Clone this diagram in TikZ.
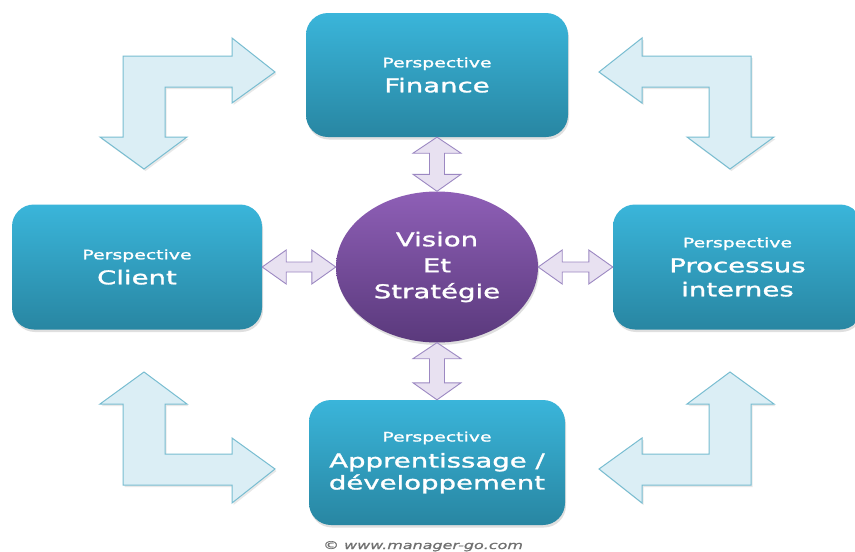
\documentclass[tikz,border=0pt]{standalone}
\usepackage{fontspec}
\newfontfamily\wfont[FakeStretch=1.45,FakeBold=1.5]{DejaVu Sans}
\newfontfamily\ffont[FakeStretch=1.45,FakeBold=0.8]{DejaVu Sans}
\usetikzlibrary{shadows,calc,shapes.geometric}
\definecolor{boxtop}{HTML}{3AB5DA}
\definecolor{boxbot}{HTML}{2886A2}
\definecolor{vistop}{HTML}{8E5FB6}
\definecolor{visbot}{HTML}{5A397C}
\definecolor{bentfill}{HTML}{DBEEF5}
\definecolor{bentline}{HTML}{78BDD1}
\definecolor{dblfill}{HTML}{E8E1F1}
\definecolor{dblline}{HTML}{9C88C2}
\definecolor{footgray}{HTML}{707070}
\newcommand{\vdbl}[2]{\draw[dbl] (#1) -- ++(24,16) -- ++(-16.5,0) -- ($(#2)+(7.5,-17)$) -- ++(16.5,0) -- (#2) -- ++(-24,-17) -- ++(16.5,0) -- ($(#1)+(-7.5,16)$) -- ++(-16.5,0) -- cycle;}
\newcommand{\hdbl}[2]{\draw[dbl] (#1) -- ++(24,-17) -- ++(0,12) -- ($(#2)+(-24,-5)$) -- ++(0,-12) -- (#2) -- ++(-24,17) -- ++(0,-12) -- ($(#1)+(24,5)$) -- ++(0,12) -- cycle;}
\begin{document}
\begin{tikzpicture}[x=1pt,y=-1pt,
  persp/.style={rounded corners=22pt, top color=boxtop, bottom color=boxbot, draw=none,
    text=white, align=center, inner sep=0pt, font=\wfont\fontsize{19}{25}\selectfont,
    drop shadow={opacity=0.25, shadow xshift=1pt, shadow yshift=-2.5pt}},
  vis/.style={ellipse, top color=vistop, bottom color=visbot, draw=none, text=white,
    align=center, inner sep=0pt, font=\wfont\fontsize{19}{26}\selectfont,
    drop shadow={opacity=0.25, shadow xshift=1pt, shadow yshift=-2.5pt}},
  bent/.style={fill=bentfill, draw=bentline, line width=1pt, line join=miter,
    drop shadow={opacity=0.18, shadow xshift=1.5pt, shadow yshift=-2pt}},
  dbl/.style={fill=dblfill, draw=dblline, line width=0.9pt, line join=miter}
]
\useasboundingbox (0,0) rectangle (855,552);
\fill[white] (0,0) rectangle (855,552);

% bent arrows
\draw[bent] (123,56) -- (232,56) -- (232,38) -- (275,72) -- (232,103) -- (232,87) -- (165,87) -- (165,137) -- (187,137) -- (144,169) -- (100,137) -- (123,137) -- cycle;
\draw[bent] (751,56) -- (642,56) -- (642,38) -- (599,72) -- (642,103) -- (642,87) -- (709,87) -- (709,137) -- (687,137) -- (730,169) -- (774,137) -- (751,137) -- cycle;
\draw[bent] (123,485) -- (232,485) -- (232,503) -- (275,469) -- (232,438) -- (232,454) -- (165,454) -- (165,404) -- (187,404) -- (144,372) -- (100,404) -- (123,404) -- cycle;
\draw[bent] (751,485) -- (642,485) -- (642,503) -- (599,469) -- (642,438) -- (642,454) -- (709,454) -- (709,404) -- (687,404) -- (730,372) -- (774,404) -- (751,404) -- cycle;

% boxes
\node[persp, minimum width=262pt, minimum height=124pt] (fin) at (437,75)
  {{\fontsize{13}{25}\selectfont Perspective}\\Finance};
\node[persp, minimum width=250pt, minimum height=125pt] (cli) at (137,267)
  {{\fontsize{13}{25}\selectfont Perspective}\\Client};
\node[persp, minimum width=249pt, minimum height=125pt] (pro) at (737.5,267)
  {{\fontsize{13}{25}\selectfont Perspective}\\Processus\\[-1pt]internes};
\node[persp, minimum width=256pt, minimum height=125pt] (app) at (437,462.5)
  {{\fontsize{13}{25}\selectfont Perspective}\\[1pt]Apprentissage /\\[-3pt]développement};

% center
\node[vis, minimum width=202pt, minimum height=151pt] (vis) at (437,267)
  {Vision\\Et\\Stratégie};

% double arrows
\vdbl{fin.south}{vis.north}
\vdbl{vis.south}{app.north}
\hdbl{cli.east}{vis.west}
\hdbl{vis.east}{pro.west}

% footer
\node[anchor=base, text=footgray, inner sep=0pt,
  font=\ffont\itshape\fontsize{11}{13}\selectfont] (foot) at (423,549) {© www.manager-go.com};
\end{tikzpicture}
\end{document}
